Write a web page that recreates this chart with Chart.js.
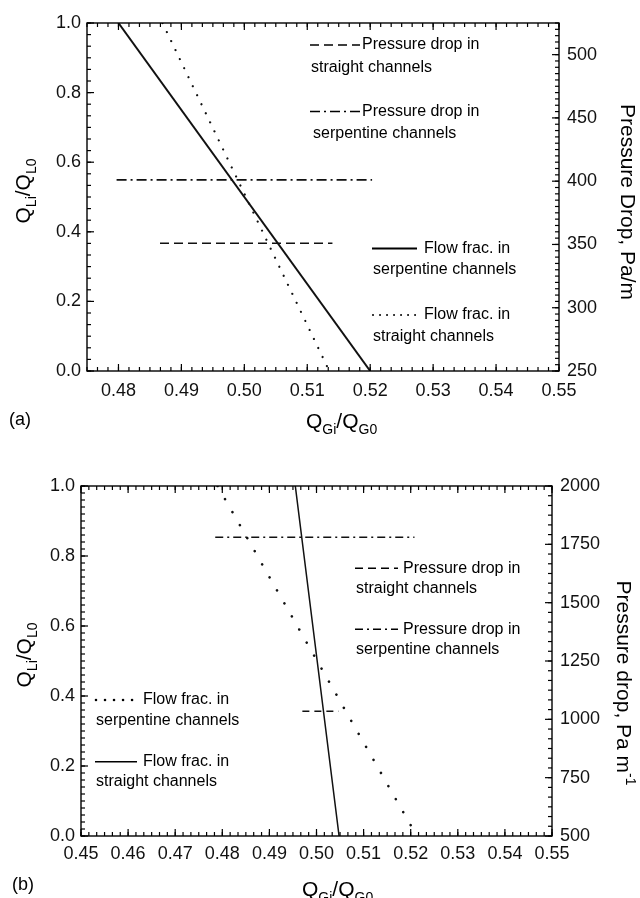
<!DOCTYPE html>
<html>
<head>
<meta charset="utf-8">
<script src="https://cdn.jsdelivr.net/npm/chart.js@4"></script>
<style>
body { margin: 0; background: #fff; }
canvas { position: absolute; left: 0; }
#chartA { top: 0; }
#chartB { top: 440px; }
</style>
</head>
<body>
<canvas id="chartA" width="640" height="440"></canvas>
<canvas id="chartB" width="640" height="458"></canvas>
<script>
// panel (a)
const aXTicks = [0.48, 0.49, 0.50, 0.51, 0.52, 0.53, 0.54, 0.55];
const aYTicks = [0.0, 0.2, 0.4, 0.6, 0.8, 1.0];
const aY2Ticks = [250, 300, 350, 400, 450, 500];
const aFlowSerpX = [0.480, 0.520];
const aFlowSerpY = [1.0, 0.0];
const aFlowStrX = [0.487, 0.5135];
const aFlowStrY = [1.0, 0.0];
const aDropStrX = [0.4866, 0.514];
const aDropStrY = [351, 351];
const aDropSerpX = [0.4797, 0.5203];
const aDropSerpY = [401, 401];

// panel (b)
const bXTicks = [0.45, 0.46, 0.47, 0.48, 0.49, 0.50, 0.51, 0.52, 0.53, 0.54, 0.55];
const bYTicks = [0.0, 0.2, 0.4, 0.6, 0.8, 1.0];
const bY2Ticks = [500, 750, 1000, 1250, 1500, 1750, 2000];
const bFlowStrX = [0.4955, 0.5048];
const bFlowStrY = [1.0, 0.0];
const bFlowSerpX = [0.479, 0.5213];
const bFlowSerpY = [1.0, 0.0];
const bDropStrX = [0.497, 0.5047];
const bDropStrY = [1035, 1035];
const bDropSerpX = [0.4785, 0.5208];
const bDropSerpY = [1780, 1780];

const FONT = '"Liberation Sans", Arial, sans-serif';
const DASHED = [9, 5];
const DASHDOT = [10, 4, 2, 4];

function richText(ctx, parts, x, y, size, align) {
  const sub = Math.round(size * 0.68);
  let w = 0;
  parts.forEach(([t, k]) => { ctx.font = (k ? sub : size) + 'px ' + FONT; w += ctx.measureText(t).width; });
  let cx = align === 'center' ? x - w / 2 : x;
  ctx.textAlign = 'left';
  ctx.textBaseline = 'alphabetic';
  parts.forEach(([t, k]) => {
    ctx.font = (k ? sub : size) + 'px ' + FONT;
    const dy = k === 1 ? size * 0.28 : k === 2 ? -size * 0.42 : 0;
    ctx.fillText(t, cx, y + dy);
    cx += ctx.measureText(t).width;
  });
}

const decor = {
  id: 'decor',
  afterDraw(chart, args, o) {
    const { ctx, chartArea: a, scales } = chart;
    ctx.save();
    ctx.strokeStyle = '#000';
    ctx.fillStyle = '#000';
    ctx.setLineDash([]);
    ctx.lineWidth = 1.4;
    ctx.strokeRect(a.left, a.top, a.right - a.left, a.bottom - a.top);
    ctx.lineWidth = 1.2;

    const line = (x1, y1, x2, y2) => { ctx.beginPath(); ctx.moveTo(x1, y1); ctx.lineTo(x2, y2); ctx.stroke(); };
    const xs = (p, len) => { line(p, a.bottom, p, a.bottom - len); line(p, a.top, p, a.top + len); };
    const yl = (p, len) => line(a.left, p, a.left + len, p);
    const yr = (p, len) => line(a.right, p, a.right - len, p);
    const minor = (scale, step, draw) => {
      const k0 = Math.ceil(scale.min / step - 1e-6), k1 = Math.floor(scale.max / step + 1e-6);
      for (let k = k0; k <= k1; k++) draw(scale.getPixelForValue(k * step), 4);
    };
    const major = (scale, draw) => scale.ticks.forEach(t => draw(scale.getPixelForValue(t.value), 7));
    minor(scales.x, o.xMinor, xs); major(scales.x, xs);
    minor(scales.y, o.yMinor, yl); major(scales.y, yl);
    minor(scales.y2, o.y2Minor, yr); major(scales.y2, yr);

    // legend
    ctx.font = '16px ' + FONT;
    o.legend.forEach(e => {
      ctx.save();
      ctx.lineWidth = e.width;
      ctx.setLineDash(e.dash);
      ctx.lineCap = e.cap || 'butt';
      line(e.x1, e.y, e.x2, e.y);
      ctx.restore();
      ctx.font = '16px ' + FONT;
      ctx.textAlign = 'left';
      ctx.textBaseline = 'middle';
      ctx.fillText(e.t1, e.tx, e.y);
      ctx.fillText(e.t2, e.x2x, e.y2);
    });

    // axis titles
    const t = o.titles;
    ctx.save();
    ctx.translate(t.left[0], t.left[1]);
    ctx.rotate(-Math.PI / 2);
    richText(ctx, [['Q', 0], ['Li', 1], ['/', 0], ['Q', 0], ['L0', 1]], 0, 0, 21, 'center');
    ctx.restore();
    ctx.save();
    ctx.translate(t.right[0], t.right[1]);
    ctx.rotate(Math.PI / 2);
    richText(ctx, t.rightParts, 0, 0, 21, 'center');
    ctx.restore();
    richText(ctx, [['Q', 0], ['Gi', 1], ['/', 0], ['Q', 0], ['G0', 1]], t.bottom[0], t.bottom[1], 21, 'left');
    richText(ctx, [[t.panel, 0]], t.panelPos[0], t.panelPos[1], 18, 'left');
    ctx.restore();
  }
};

function buildChart(id, p) {
  const tickFont = { family: FONT, size: 18 };
  return new Chart(document.getElementById(id), {
    type: 'scatter',
    data: {
      datasets: p.series.map(s => ({
        data: s.x.map((v, i) => ({ x: v, y: s.y[i] })),
        yAxisID: s.axis,
        showLine: true,
        borderColor: '#111',
        borderWidth: s.width,
        borderDash: s.dash,
        borderCapStyle: s.cap || 'butt',
        pointRadius: 0,
        fill: false
      }))
    },
    options: {
      responsive: false,
      animation: false,
      layout: { padding: { top: p.top, left: 0, right: 0, bottom: 0 } },
      plugins: { legend: { display: false }, tooltip: { enabled: false }, decor: p.decor },
      scales: {
        x: {
          type: 'linear', min: p.xMin, max: p.xMax,
          grid: { display: false, drawTicks: false }, border: { display: false },
          ticks: { font: tickFont, color: '#111', padding: p.xPad, autoSkip: false, maxRotation: 0, callback: v => v.toFixed(2) },
          afterBuildTicks: s => { s.ticks = p.xTicks.map(v => ({ value: v })); },
          afterFit: s => { s.height = p.xH; }
        },
        y: {
          type: 'linear', position: 'left', min: 0, max: 1,
          grid: { display: false, drawTicks: false }, border: { display: false },
          ticks: { font: tickFont, color: '#111', padding: p.yPad, callback: v => v.toFixed(1) },
          afterBuildTicks: s => { s.ticks = p.yTicks.map(v => ({ value: v })); },
          afterFit: s => { s.width = p.yW; }
        },
        y2: {
          type: 'linear', position: 'right', min: p.y2Min, max: p.y2Max,
          grid: { display: false, drawTicks: false }, border: { display: false },
          ticks: { font: tickFont, color: '#111', padding: 8, callback: v => String(v) },
          afterBuildTicks: s => { s.ticks = p.y2Ticks.map(v => ({ value: v })); },
          afterFit: s => { s.width = p.y2W; }
        }
      }
    },
    plugins: [decor]
  });
}

buildChart('chartA', {
  top: 23, xH: 69, yW: 87, y2W: 81, xPad: 9, yPad: 6,
  xMin: 0.475, xMax: 0.55, y2Min: 250, y2Max: 525,
  xTicks: aXTicks, yTicks: aYTicks, y2Ticks: aY2Ticks,
  series: [
    { x: aFlowSerpX, y: aFlowSerpY, axis: 'y', width: 2, dash: [] },
    { x: aFlowStrX, y: aFlowStrY, axis: 'y', width: 2.2, dash: [0.01, 10], cap: 'round' },
    { x: aDropStrX, y: aDropStrY, axis: 'y2', width: 1.6, dash: DASHED },
    { x: aDropSerpX, y: aDropSerpY, axis: 'y2', width: 1.6, dash: DASHDOT }
  ],
  decor: {
    xMinor: 0.01 / 6, yMinor: 0.2 / 6, y2Minor: 5,
    legend: [
      { x1: 310, x2: 360, y: 45, dash: DASHED, width: 1.6, t1: 'Pressure drop in', tx: 362, t2: 'straight channels', x2x: 311, y2: 67.5 },
      { x1: 310, x2: 360, y: 111.5, dash: DASHDOT, width: 1.6, t1: 'Pressure drop in', tx: 362, t2: 'serpentine channels', x2x: 313, y2: 134 },
      { x1: 372, x2: 417, y: 248.5, dash: [], width: 2, t1: 'Flow frac. in', tx: 424, t2: 'serpentine channels', x2x: 373, y2: 270 },
      { x1: 373, x2: 417, y: 315, dash: [0.01, 7], width: 2, cap: 'round', t1: 'Flow frac. in', tx: 424, t2: 'straight channels', x2x: 373, y2: 337 }
    ],
    titles: {
      left: [30, 191], right: [621, 202],
      rightParts: [['Pressure Drop, Pa/m', 0]],
      bottom: [306, 428], panel: '(a)', panelPos: [9, 425]
    }
  }
});

buildChart('chartB', {
  top: 46, xH: 62, yW: 81, y2W: 88, xPad: 7, yPad: 6,
  xMin: 0.45, xMax: 0.55, y2Min: 500, y2Max: 2000,
  xTicks: bXTicks, yTicks: bYTicks, y2Ticks: bY2Ticks,
  series: [
    { x: bFlowStrX, y: bFlowStrY, axis: 'y', width: 1.5, dash: [] },
    { x: bFlowSerpX, y: bFlowSerpY, axis: 'y', width: 2.6, dash: [0.01, 15], cap: 'round' },
    { x: bDropStrX, y: bDropStrY, axis: 'y2', width: 1.5, dash: [7, 5] },
    { x: bDropSerpX, y: bDropSerpY, axis: 'y2', width: 1.5, dash: [8, 4, 2, 4] }
  ],
  decor: {
    xMinor: 0.01 / 6, yMinor: 0.02, y2Minor: 250 / 6,
    legend: [
      { x1: 355, x2: 398, y: 128.3, dash: [8, 5], width: 1.5, t1: 'Pressure drop in', tx: 403, t2: 'straight channels', x2x: 356, y2: 148.3 },
      { x1: 355, x2: 398, y: 189.3, dash: [8, 4, 2, 4], width: 1.5, t1: 'Pressure drop in', tx: 403, t2: 'serpentine channels', x2x: 356, y2: 209.3 },
      { x1: 96, x2: 137, y: 260, dash: [0.01, 9], width: 2.6, cap: 'round', t1: 'Flow frac. in', tx: 143, t2: 'serpentine channels', x2x: 96, y2: 281 },
      { x1: 95, x2: 137, y: 321.7, dash: [], width: 1.5, t1: 'Flow frac. in', tx: 143, t2: 'straight channels', x2x: 96, y2: 341.7 }
    ],
    titles: {
      left: [31, 215], right: [617, 243],
      rightParts: [['Pressure drop, Pa m', 0], ['-1', 2]],
      bottom: [302, 456], panel: '(b)', panelPos: [12, 450]
    }
  }
});
</script>
</body>
</html>
